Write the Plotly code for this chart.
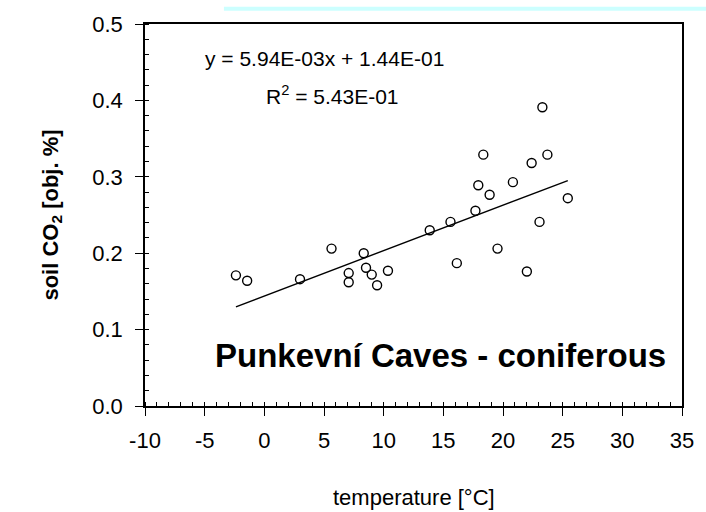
import plotly.graph_objects as go

# --- data ---
temperature = [-2.38, -1.44, 2.99, 5.63, 8.33, 7.07, 7.07, 8.52, 9.0, 9.45, 10.36,
               13.86, 15.6, 17.69, 16.13, 17.93, 18.88, 18.35, 19.54, 20.83, 22.4,
               22.0, 23.3, 23.06, 23.72, 25.43]
soil_co2 = [0.171, 0.164, 0.166, 0.206, 0.200, 0.174, 0.162, 0.181, 0.172, 0.158, 0.177,
            0.230, 0.241, 0.2555, 0.187, 0.289, 0.2765, 0.329, 0.206, 0.293, 0.318,
            0.176, 0.391, 0.241, 0.329, 0.272]
slope = 5.94e-03
intercept = 1.44e-01
r_squared = 5.43e-01
x_ticks = [-10, -5, 0, 5, 10, 15, 20, 25, 30, 35]
y_ticks = [0.0, 0.1, 0.2, 0.3, 0.4, 0.5]
x_tick_labels = ["-10", "-5", "0", "5", "10", "15", "20", "25", "30", "35"]
y_tick_labels = ["0.0", "0.1", "0.2", "0.3", "0.4", "0.5"]

FONT = "Liberation Sans, Arial, sans-serif"

x_line = [min(temperature), max(temperature)]
y_line = [slope * v + intercept for v in x_line]

fig = go.Figure()
fig.add_trace(go.Scatter(x=x_line, y=y_line, mode="lines",
                         line=dict(color="black", width=1.4), showlegend=False,
                         hoverinfo="skip"))
fig.add_trace(go.Scatter(x=temperature, y=soil_co2, mode="markers",
                         marker=dict(symbol="circle-open", size=9,
                                     color="black", line=dict(width=1.4)),
                         showlegend=False))
# invisible trace for overlay axes (inside part of crossing major ticks)
fig.add_trace(go.Scatter(x=[x_ticks[0]], y=[y_ticks[0]], xaxis="x2", yaxis="y2",
                         mode="markers", marker=dict(opacity=0), showlegend=False,
                         hoverinfo="skip"))

axis_common = dict(showgrid=False, zeroline=False, showline=True, linecolor="black",
                   linewidth=1.5, mirror=True, ticks="outside", ticklen=8,
                   tickwidth=1.3, tickcolor="black",
                   tickfont=dict(family=FONT, size=22, color="black"))

fig.update_layout(
    width=706, height=512,
    margin=dict(l=145, r=16, t=16, b=106),
    paper_bgcolor="white", plot_bgcolor="white",
    xaxis=dict(range=[x_ticks[0], x_ticks[-1]], tickvals=x_ticks, ticktext=x_tick_labels,
               minor=dict(ticks="inside", ticklen=4, tickwidth=1.2,
                          tickcolor="black", dtick=1),
               ticklabelstandoff=6, **axis_common),
    yaxis=dict(range=[y_ticks[0], y_ticks[-1]], tickvals=y_ticks, ticktext=y_tick_labels,
               minor=dict(ticks="inside", ticklen=4, tickwidth=1.2,
                          tickcolor="black", dtick=0.02),
               ticklabelstandoff=8, **axis_common),
    xaxis2=dict(overlaying="x", matches="x", anchor="y2", side="bottom",
                tickvals=x_ticks, ticks="inside", ticklen=4, tickwidth=1.3,
                tickcolor="black", showticklabels=False, showgrid=False,
                zeroline=False, showline=False),
    yaxis2=dict(overlaying="y", matches="y", anchor="x2", side="left",
                tickvals=y_ticks, ticks="inside", ticklen=4, tickwidth=1.3,
                tickcolor="black", showticklabels=False, showgrid=False,
                zeroline=False, showline=False),
    font=dict(family=FONT, color="black"),
    shapes=[dict(type="rect", xref="paper", yref="paper",
                 x0=0.147, x1=1.06, y0=1.035, y1=1.045,
                 fillcolor="#ccffff", line=dict(width=0))],
    annotations=[
        dict(text="y = %.2E" % slope + "x + %.2E" % intercept,
             xref="paper", yref="paper", x=0.334, y=0.91, showarrow=False,
             font=dict(family=FONT, size=21), xanchor="center", yanchor="middle"),
        dict(text="R<sup>2</sup> = %.2E" % r_squared,
             xref="paper", yref="paper", x=0.349, y=0.815, showarrow=False,
             font=dict(family=FONT, size=21), xanchor="center", yanchor="middle"),
        dict(text="<b>Punkevní Caves - coniferous</b>",
             xref="paper", yref="paper", x=0.55, y=0.133, showarrow=False,
             font=dict(family=FONT, size=33), xanchor="center", yanchor="middle"),
        dict(text="temperature [°C]", xref="paper", yref="paper",
             x=0.5, y=-0.24, showarrow=False,
             font=dict(family=FONT, size=22), xanchor="center", yanchor="middle"),
        dict(text="<b>soil CO<sub>2</sub> [obj. %]</b>", xref="paper", yref="paper",
             x=-0.174, y=0.5, showarrow=False, textangle=-90,
             font=dict(family=FONT, size=22), xanchor="center", yanchor="middle"),
    ],
)

fig.write_html("out.html")
